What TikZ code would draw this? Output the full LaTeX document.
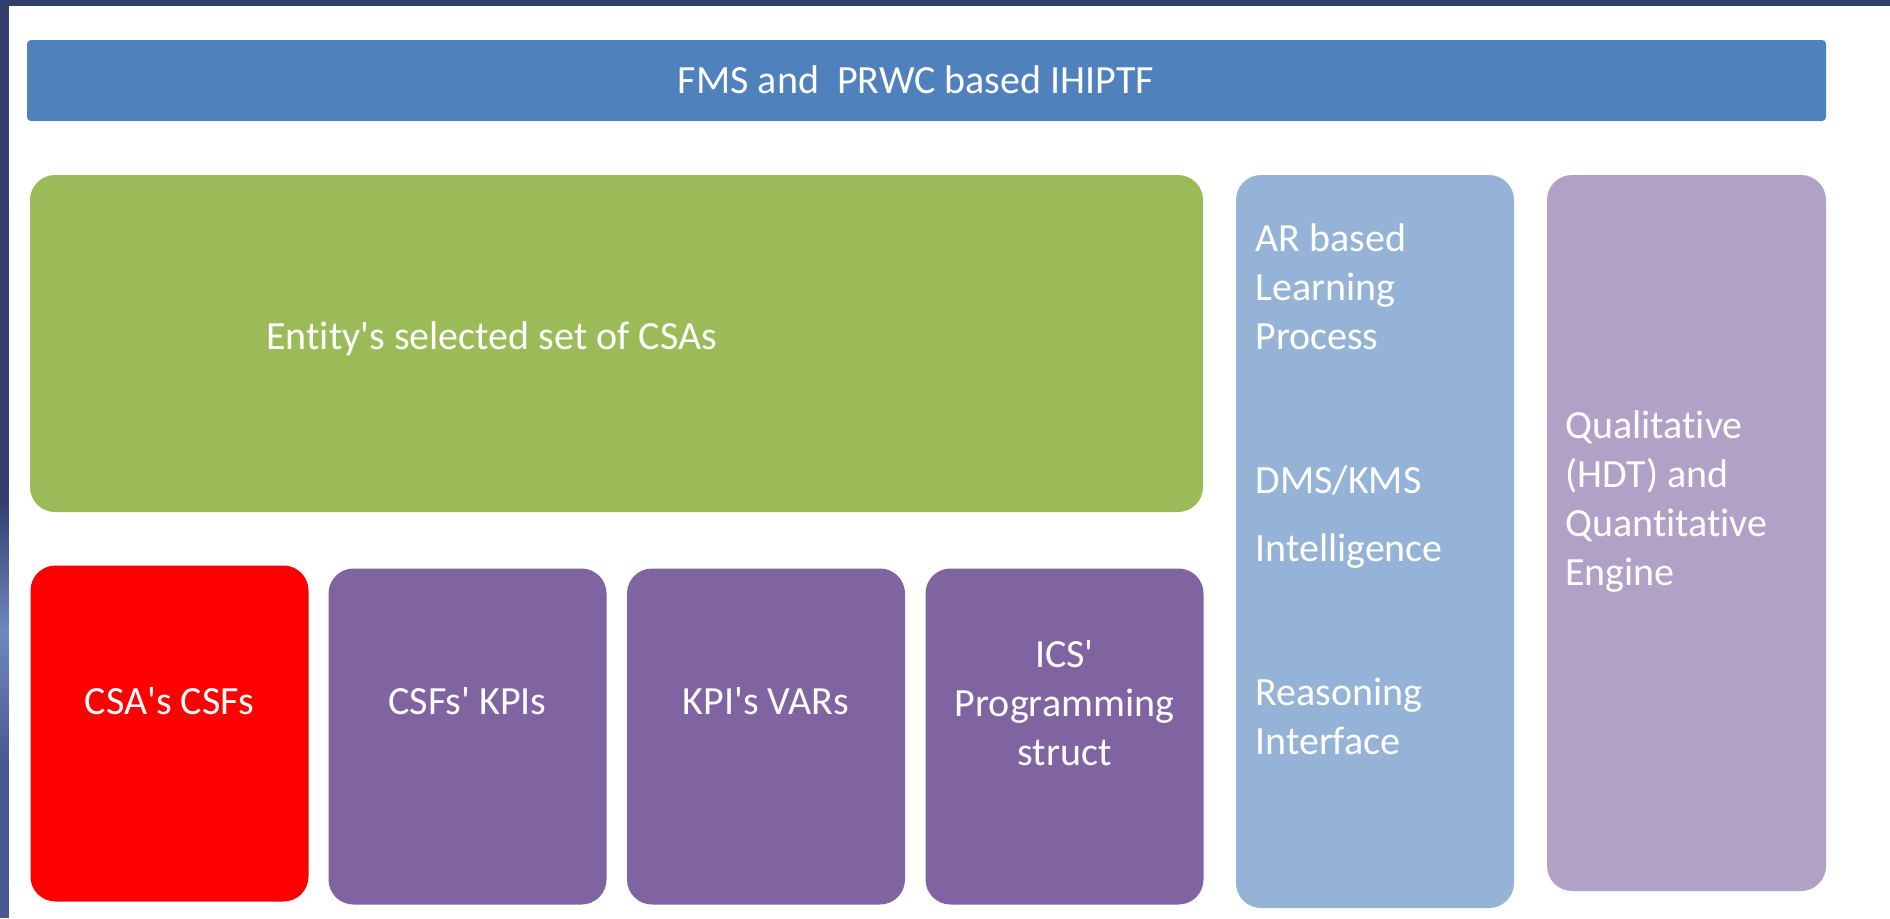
\documentclass[tikz,border=0pt]{standalone}
\usepackage{fontspec}
\setmainfont{Carlito}[Ligatures={TeXOff,NoCommon}]
\definecolor{framenavy}{HTML}{323E6E}
\definecolor{stripblue}{HTML}{7088BC}
\definecolor{striplow}{HTML}{4A5A8E}
\definecolor{barblue}{HTML}{4F81BD}
\definecolor{csagreen}{HTML}{9BBB59}
\definecolor{csfred}{HTML}{FF0000}
\definecolor{kpipurple}{HTML}{8064A2}
\definecolor{arblue}{HTML}{95B3D7}
\definecolor{englavender}{HTML}{B2A1C7}

\tikzstyle{block}=[shape=rectangle,rounded corners=12.5pt,inner sep=0pt]
\tikzstyle{smallblock}=[block,minimum width=139pt,minimum height=168pt]
\tikzstyle{boxtext}=[text=white,inner sep=0pt,font=\fontsize{20}{24.5}\selectfont]
\tikzstyle{sidetext}=[boxtext,anchor=west,align=left]

\begin{document}
\begin{tikzpicture}[x=0.5pt,y=-0.5pt]
% frame
\fill[framenavy] (0,0) rectangle (1890,918);
\shade[top color=framenavy,bottom color=striplow,middle color=stripblue] (0,500) rectangle (9,760);
\fill[striplow] (0,760) rectangle (9,918);
\fill[white] (9,6) rectangle (1890,918);
\useasboundingbox (0,0) rectangle (1890,918);

% top bar
\node[block,rounded corners=2pt,fill=barblue,minimum width=899.5pt,minimum height=40.5pt] (bar) at (926.5,80.5) {};
\node[boxtext] (bartext) at (916,80) {FMS and\ \ PRWC based IHIPTF};

% green box
\node[block,fill=csagreen,minimum width=586.5pt,minimum height=168.5pt] (csas) at (616.5,343.5) {};
\node[boxtext,anchor=west] (csastext) at (266,339) {Entity's selected set of CSAs};

% bottom row
\node[smallblock,fill=csfred] (csfs) at (169.5,733.5) {};
\node[boxtext] (csfstext) at (169.5,701) {CSA's CSFs};
\node[smallblock,fill=kpipurple] (kpis) at (467.5,736.5) {};
\node[boxtext] (kpistext) at (467.5,701) {CSFs' KPIs};
\node[smallblock,fill=kpipurple] (vars) at (766,736.5) {};
\node[boxtext] (varstext) at (766,701) {KPI's VARs};
\node[smallblock,fill=kpipurple] (ics) at (1064.5,736.5) {};
\node[boxtext,align=center] (icstext) at (1064.5,703) {ICS'\\Programming\\struct};

% learning column
\node[block,fill=arblue,minimum width=139pt,minimum height=366.5pt] (ar) at (1375,541.5) {};
\node[sidetext] (artext) at (1255,287) {AR based\\Learning\\Process};
\node[sidetext] (dmstext) at (1255,480) {DMS/KMS};
\node[sidetext] (inttext) at (1255,551) {Intelligence};
\node[sidetext] (reastext) at (1255,716) {Reasoning\\Interface};

% engine column
\node[block,fill=englavender,minimum width=139.5pt,minimum height=358pt] (engine) at (1686.5,533) {};
\node[sidetext] (enginetext) at (1565,502) {Qualitative\\(HDT) and\\Quantitative\\Engine};

\end{tikzpicture}
\end{document}
